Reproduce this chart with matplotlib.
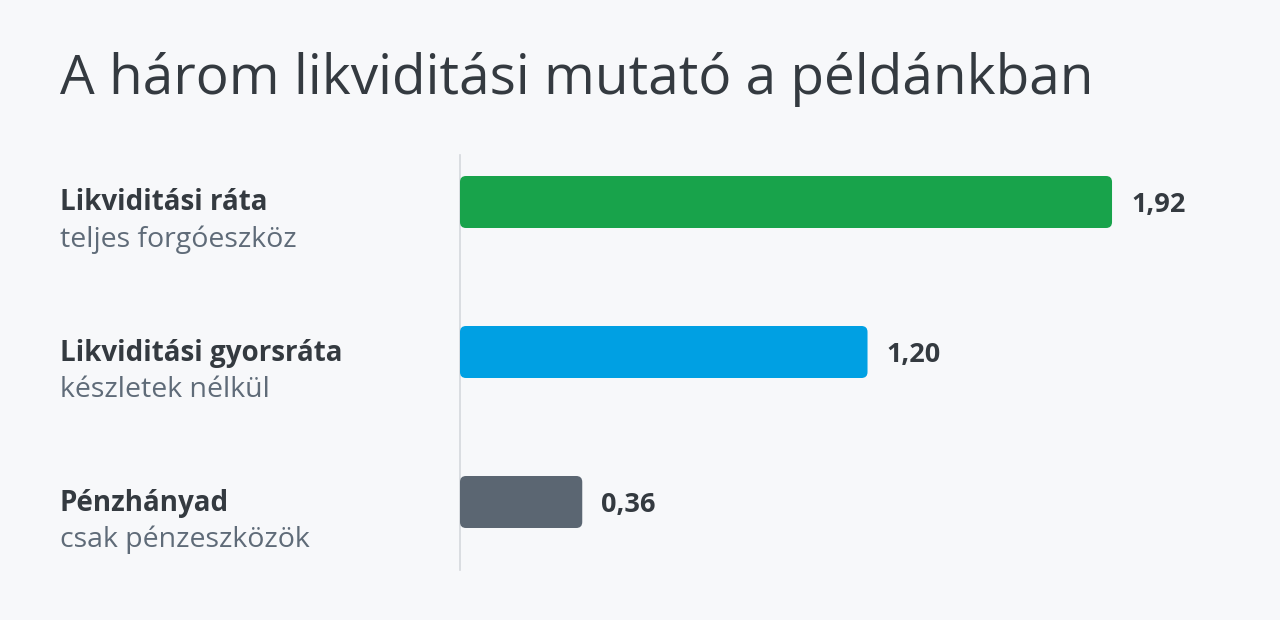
import matplotlib.pyplot as plt
from matplotlib.patches import FancyBboxPatch
from matplotlib.transforms import blended_transform_factory

# Daten
labels = ["Likviditási ráta", "Likviditási gyorsráta", "Pénzhányad"]
sublabels = ["teljes forgóeszköz", "készletek nélkül", "csak pénzeszközök"]
values = [1.92, 1.20, 0.36]
value_text = ["1,92", "1,20", "0,36"]
colors = ["#18a34b", "#00a0e3", "#5b6672"]

bg = "#f7f8fa"
dark = "#343a40"
muted = "#5f6b78"

plt.rcParams['font.family'] = ['Open Sans', 'DejaVu Sans']

fig = plt.figure(figsize=(12.8, 6.2), dpi=100, facecolor=bg)
W, H = 1280, 620
px_per_x = 339.6
px_per_y = 150.0
x_max = 2.2
ax = fig.add_axes([460 / W, 50 / H, x_max * px_per_x / W, 415 / H])
ax.set_facecolor(bg)
ax.set_xlim(0, x_max)
ax.set_ylim(2 + 68 / px_per_y, -47 / px_per_y)
for s in ax.spines.values():
    s.set_visible(False)
ax.spines["left"].set_visible(True)
ax.spines["left"].set_color("#d5d8dc")
ax.spines["left"].set_linewidth(1.2)
ax.set_xticks([])
ax.set_yticks([])

bar_h = 52 / px_per_y
aspect = (1 / px_per_y) / (1 / px_per_x)
for i, (v, c) in enumerate(zip(values, colors)):
    patch = FancyBboxPatch((0, i - bar_h / 2), v, bar_h,
                           boxstyle="round,pad=0,rounding_size=%f" % (6 / px_per_x),
                           mutation_aspect=aspect, fc=c, ec="none", zorder=3)
    ax.add_patch(patch)
    ax.annotate(value_text[i], (v, i), xytext=(19 * 0.72, -3 * 0.72), textcoords="offset points",
                va="center", ha="left", fontsize=19.5, fontweight="bold", color=dark)

tr = blended_transform_factory(fig.transFigure, ax.transData)
for i in range(len(labels)):
    ax.text(60 / W, i + 1 / px_per_y, labels[i], transform=tr, ha="left", va="center",
            fontsize=20, fontweight="bold", color=dark, clip_on=False)
    ax.text(60 / W, i + 38 / px_per_y, sublabels[i], transform=tr, ha="left", va="center",
            fontsize=20.5, color=muted, clip_on=False)

fig.text(60 / W, 1 - 94 / H, "A három likviditási mutató a példánkban",
         ha="left", va="baseline", fontsize=39.5, color=dark)

fig.savefig("out.png", dpi=100, facecolor=bg)
